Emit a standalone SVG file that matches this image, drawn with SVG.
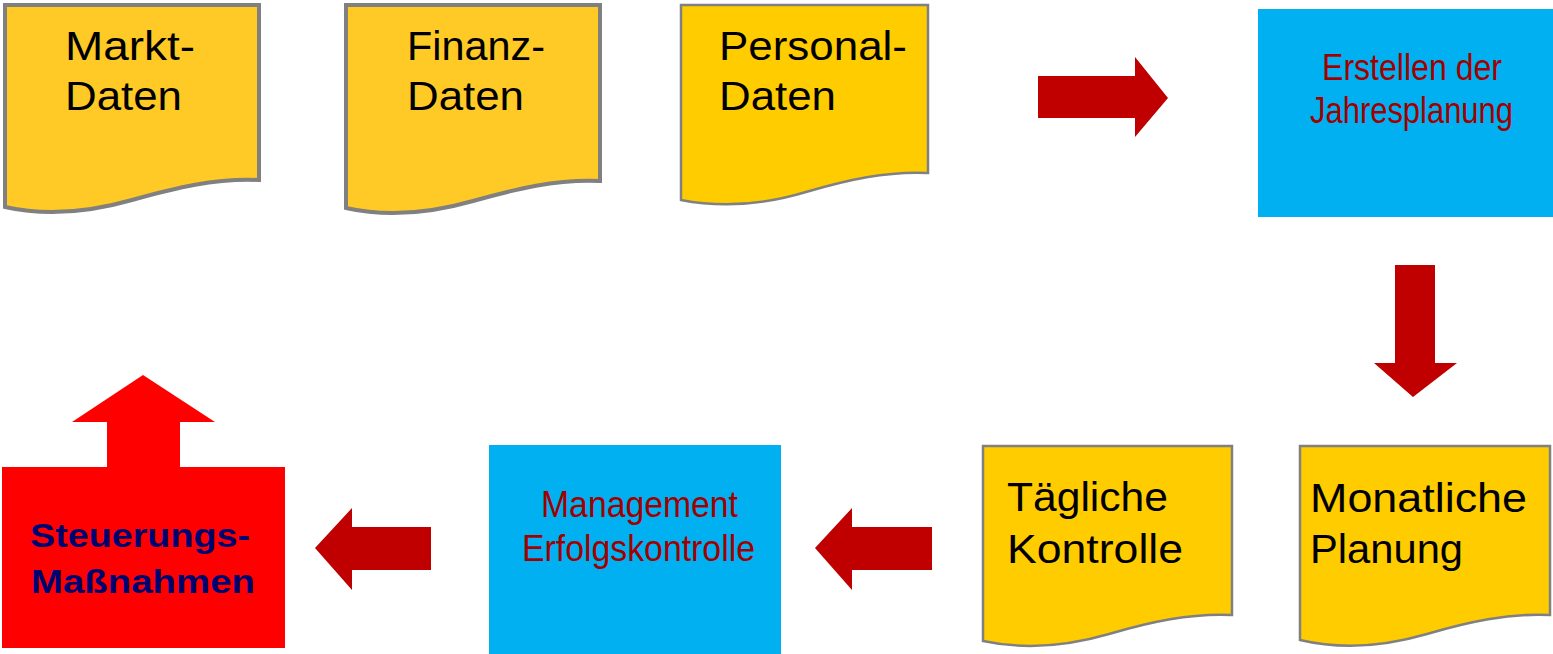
<svg xmlns="http://www.w3.org/2000/svg" width="1553" height="654" viewBox="0 0 1553 654">
<style>
.doc1{fill:#FFC926;stroke:#808080;stroke-width:4}
.doc2{fill:#FFCC00;stroke:#808080;stroke-width:2.5}
.blue{fill:#00B0F0}
.arr{fill:#C00000}
.big{font-family:"Liberation Sans",Arial,sans-serif;font-size:40px;fill:#000}
.red{font-family:"Liberation Sans",Arial,sans-serif;font-size:37px;fill:#A00000}
.nav{font-family:"Liberation Sans",Arial,sans-serif;font-size:33px;font-weight:bold;fill:#000070}
</style>
<rect width="1553" height="654" fill="#fff"/>
<g id="markt">
<path class="doc1" d="M5,5 H259 V180 C215,178 175,188 132,200 C90,212 45,216 5,207 Z"/>
<text class="big" x="65" y="60" textLength="130" lengthAdjust="spacingAndGlyphs">Markt-</text>
<text class="big" x="65" y="110" textLength="117" lengthAdjust="spacingAndGlyphs">Daten</text>
</g>
<g id="finanz">
<path class="doc1" d="M346,5 H600 V181 C556,179 516,189 473,201 C431,213 386,217 346,208 Z"/>
<text class="big" x="407" y="60" textLength="138" lengthAdjust="spacingAndGlyphs">Finanz-</text>
<text class="big" x="407" y="110" textLength="117" lengthAdjust="spacingAndGlyphs">Daten</text>
</g>
<g id="personal">
<path class="doc2" d="M681,5 H928 V173 C886,171 847,180 806,192 C766,204 722,208 681,200 Z"/>
<text class="big" x="719" y="60" textLength="188" lengthAdjust="spacingAndGlyphs">Personal-</text>
<text class="big" x="719" y="110" textLength="117" lengthAdjust="spacingAndGlyphs">Daten</text>
</g>
<g id="jahresplanung">
<rect class="blue" x="1258" y="9" width="295" height="208"/>
<text class="red" x="1322" y="80" textLength="180" lengthAdjust="spacingAndGlyphs">Erstellen der</text>
<text class="red" x="1310" y="123" textLength="203" lengthAdjust="spacingAndGlyphs">Jahresplanung</text>
</g>
<g id="monatliche">
<path class="doc2" d="M1300,446 H1550 V615 C1508,613 1468,622 1427,634 C1386,646 1342,650 1300,640 Z"/>
<text class="big" x="1310" y="512" textLength="217" lengthAdjust="spacingAndGlyphs">Monatliche</text>
<text class="big" x="1310" y="563" textLength="153" lengthAdjust="spacingAndGlyphs">Planung</text>
</g>
<g id="taegliche">
<path class="doc2" d="M983,446 H1232 V615 C1190,613 1150,622 1109,634 C1068,646 1025,650 983,641 Z"/>
<text class="big" x="1007" y="511" textLength="161" lengthAdjust="spacingAndGlyphs">Tägliche</text>
<text class="big" x="1007" y="563" textLength="176" lengthAdjust="spacingAndGlyphs">Kontrolle</text>
</g>
<g id="management">
<rect class="blue" x="489" y="445" width="292" height="209"/>
<text class="red" x="541" y="517" textLength="197" lengthAdjust="spacingAndGlyphs">Management</text>
<text class="red" x="522" y="561" textLength="233" lengthAdjust="spacingAndGlyphs">Erfolgskontrolle</text>
</g>
<g id="steuerung">
<polygon fill="#FF0000" points="2,467 107,467 107,422 72,422 143,375 215,422 180,422 180,467 285,467 285,648 2,648"/>
<text class="nav" x="30" y="547" textLength="220" lengthAdjust="spacingAndGlyphs">Steuerungs-</text>
<text class="nav" x="31" y="593" textLength="224" lengthAdjust="spacingAndGlyphs">Maßnahmen</text>
</g>
<g id="connectors">
<polygon class="arr" points="1038,76 1135,76 1135,57 1168,98 1135,137 1135,118 1038,118"/>
<polygon class="arr" points="1395,265 1435,265 1435,363 1457,363 1413,397 1374,363 1395,363"/>
<polygon class="arr" points="932,527 852,527 852,508 815,548 852,590 852,570 932,570"/>
<polygon class="arr" points="431,527 352,527 352,508 315,548 352,590 352,570 431,570"/>
</g>
</svg>
